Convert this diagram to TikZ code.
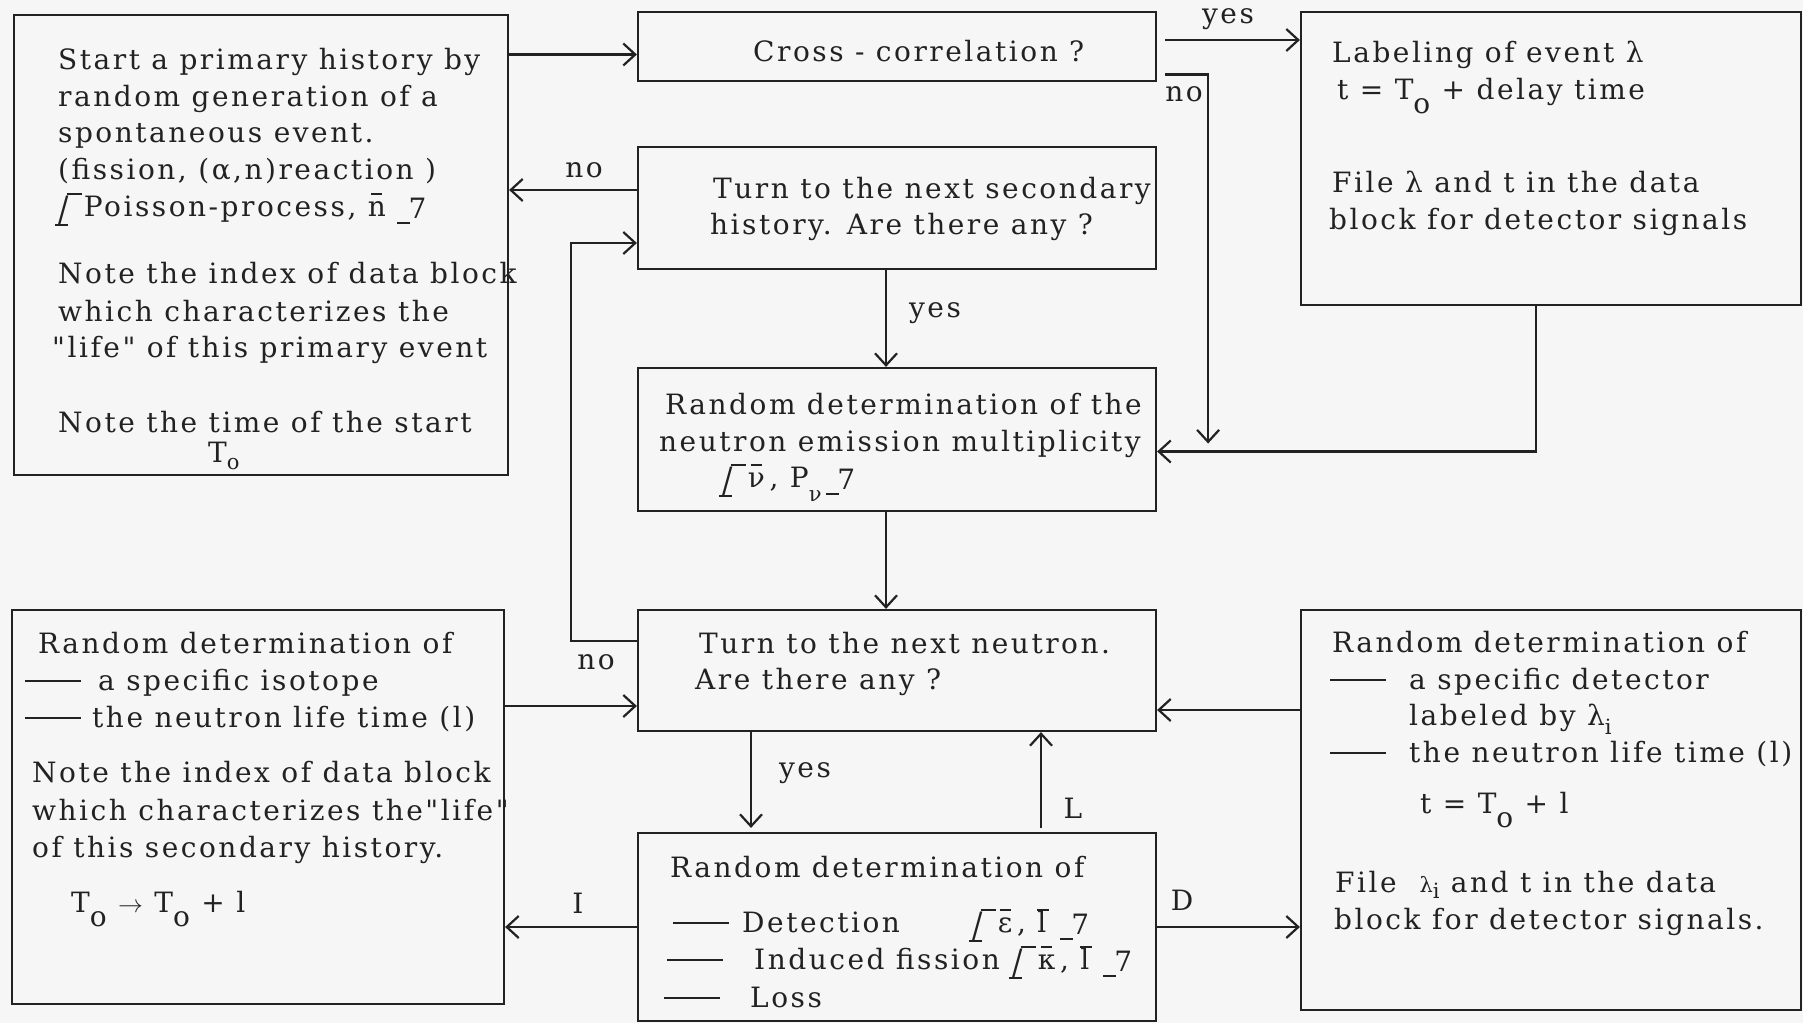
\documentclass[tikz,border=0pt]{standalone}
\usepackage{graphicx}
\usepackage{fontspec}
\setmainfont{DejaVu Serif}[LetterSpace=9,Ligatures=TeXOff]
\usetikzlibrary{arrows.meta,calc}
\definecolor{ink}{HTML}{222222}
\definecolor{paper}{HTML}{F6F6F6}
\newcommand\Dsh{\rule[0.28em]{2em}{0.07em}}
\newcommand\Dn[1]{\raisebox{-0.5em}{#1}}
\newcommand\Sm[1]{{\fontsize{21}{24}\selectfont #1}}
\newcommand\Ovl[1]{\ooalign{#1\cr\hfil\rule[0.74em]{0.4em}{0.07em}\hfil\cr}}
\newcommand\Lbk{\rlap{\kern-0.1em\rule[-0.34em]{0.45em}{0.07em}}\rlap{\kern0.3em\rule[0.74em]{0.55em}{0.07em}}\raisebox{-0.2em}{\scalebox{1.1}[1.25]{/}}\hspace{0.55em}}
\newcommand\Rbk{\rule[-0.3em]{0.45em}{0.07em}\kern-0.05em\raisebox{-0.1em}{7}}
\begin{document}
\begin{tikzpicture}[x=1pt,y=-1pt,
  box/.style={draw=ink,line width=2.2pt,inner sep=0pt,anchor=center},
  txt/.style={anchor=base west,inner sep=0pt,text=ink,font=\fontsize{28}{37}\selectfont},
  lbl/.style={anchor=center,inner sep=0pt,text=ink,font=\fontsize{28}{37}\selectfont},
  arr/.style={draw=ink,line width=2.2pt,-{Straight Barb[length=12pt,width=22pt,line width=2.2pt]}}]
\fill[paper] (0,0) rectangle (1803,1023);
\useasboundingbox (0,0) rectangle (1803,1023);

% boxes
\node[box,minimum width=494pt,minimum height=460pt] (A) at (261,245) {};
\node[box,minimum width=518pt,minimum height=69pt] (B) at (897,46.5) {};
\node[box,minimum width=500pt,minimum height=293pt] (C) at (1551,158.5) {};
\node[box,minimum width=518pt,minimum height=122pt] (D) at (897,208) {};
\node[box,minimum width=518pt,minimum height=143pt] (E) at (897,439.5) {};
\node[box,minimum width=518pt,minimum height=121pt] (F) at (897,670.5) {};
\node[box,minimum width=518pt,minimum height=188pt] (G) at (897,927) {};
\node[box,minimum width=492pt,minimum height=394pt] (H) at (258,807) {};
\node[box,minimum width=500pt,minimum height=400pt] (I) at (1551,810) {};

% texts box A
\node[txt] (a1) at (58,69) {Start a primary history by};
\node[txt] (a2) at (58,106) {random generation of a};
\node[txt] (a3) at (58,142) {spontaneous event.};
\node[txt] (a4) at (58,179) {(fission, (α,n)reaction )};
\node[txt] (a5) at (58,216) {\Lbk Poisson-process, \Ovl{n}\ \Rbk};
\node[txt] (a6) at (58,283) {Note the index of data block};
\node[txt] (a7) at (58,321) {which characterizes the};
\node[txt] (a8) at (52,357) {"life" of this primary event};
\node[txt] (a9) at (58,432) {Note the time of the start};
\node[txt] (a10) at (208,462) {T\raisebox{-0.25em}{\Sm{o}}};

% box B
\node[txt] (b1) at (753,61) {Cross - correlation ?};

% box C
\node[txt] (c1) at (1332,62) {Labeling of event λ};
\node[txt] (c2) at (1337,99) {t = T\Dn{o} + delay time};
\node[txt] (c3) at (1332,192) {File λ and t in the data};
\node[txt] (c4) at (1329,229) {block for detector signals};

% box D
\node[txt] (d1) at (713,198) {Turn to the next secondary};
\node[txt] (d2) at (710,234) {history. Are there any ?};

% box E
\node[txt] (e1) at (665,414) {Random determination of the};
\node[txt] (e2) at (659,451) {neutron emission multiplicity};
\node[txt] (e3) at (722,487) {\Lbk\Ovl{ν}\,, P\Dn{\Sm{ν}}\,\Rbk};

% box F
\node[txt] (f1) at (699,653) {Turn to the next neutron.};
\node[txt] (f2) at (695,689) {Are there any ?};

% box G
\node[txt] (g1) at (670,877) {Random determination of};
\node[txt] (g2) at (673,932) {\makebox[69pt][l]{\Dsh}Detection};
\node[txt] (g3) at (972,932) {\Lbk\Ovl{ε}\,, \Ovl{l}\ \Rbk};
\node[txt] (g4) at (667,969) {\makebox[87pt][l]{\Dsh}Induced fission};
\node[txt] (g5) at (1012,969) {\Lbk\Ovl{κ}\,, \Ovl{l}\ \Rbk};
\node[txt] (g6) at (664,1007) {\makebox[86pt][l]{\Dsh}Loss};

% box H
\node[txt] (h1) at (38,653) {Random determination of};
\node[txt] (h2) at (25,690) {\makebox[73pt][l]{\Dsh}a specific isotope};
\node[txt] (h3) at (25,727) {\makebox[67pt][l]{\Dsh}the neutron life time (l)};
\node[txt] (h4) at (32,782) {Note the index of data block};
\node[txt] (h5) at (32,820) {which characterizes the"life"};
\node[txt] (h6) at (32,857) {of this secondary history.};
\node[txt] (h7) at (71,912) {T\Dn{o} $\rightarrow$ T\Dn{o} + l};

% box I
\node[txt] (i1) at (1332,652) {Random determination of};
\node[txt] (i2) at (1330,689) {\makebox[79pt][l]{\Dsh}a specific detector};
\node[txt] (i3) at (1409,725) {labeled by λ\raisebox{-0.35em}{\Sm{i}}};
\node[txt] (i4) at (1330,762) {\makebox[79pt][l]{\Dsh}the neutron life time (l)};
\node[txt] (i5) at (1420,813) {t = T\Dn{o} + l};
\node[txt] (i6) at (1335,892) {File \ \Sm{λ\raisebox{-0.3em}{i}} and t in the data};
\node[txt] (i7) at (1334,929) {block for detector signals.};

% connectors
\draw[arr] ([yshift=-8pt]A.north east |- B.west) -- ([yshift=-8pt]B.west);
\draw[arr] ([xshift=8pt,yshift=6.5pt]B.east) coordinate (byes) -- (byes -| C.west);
\draw[arr] ([xshift=8pt,yshift=-28pt]B.east) -| ($(E.east)+(51,4)$);
\draw[arr] ([xshift=-15pt]C.south) |- ([yshift=-12pt]E.east);
\draw[arr] ([yshift=18pt]D.west) -- ([yshift=18pt]D.west -| A.east);
\draw[arr] ([xshift=-11pt]D.south) -- ([xshift=-11pt]E.north);
\draw[arr] ([yshift=29.5pt]F.west) -- ++(-66,0) |- ([yshift=-35pt]D.west);
\draw[arr] ([xshift=-11pt]E.south) -- ([xshift=-11pt]F.north);
\draw[arr] ([yshift=101pt]H.east) -- ([yshift=101pt]H.east -| F.west);
\draw[arr] ([yshift=100pt]I.west) -- ([yshift=100pt]I.west -| F.east);
\draw[arr] ([xshift=-146pt]F.south) -- ([xshift=-146pt,yshift=4pt]G.north);
\draw[arr] ([xshift=144pt,yshift=4pt]G.north) -- ([xshift=144pt]F.south);
\draw[arr] (G.west) -- (G.west -| H.east);
\draw[arr] (G.east) -- (G.east -| I.west);

% labels
\node[lbl] (l1) at (1228,19) {yes};
\node[lbl] (l2) at (1184,94) {no};
\node[lbl] (l3) at (584,170) {no};
\node[lbl] (l4) at (935,313) {yes};
\node[lbl] (l5) at (596,662) {no};
\node[lbl] (l6) at (805,773) {yes};
\node[lbl] (l7) at (1073,808) {L};
\node[lbl] (l8) at (578,903) {I};
\node[lbl] (l9) at (1182,900) {D};
\end{tikzpicture}
\end{document}
